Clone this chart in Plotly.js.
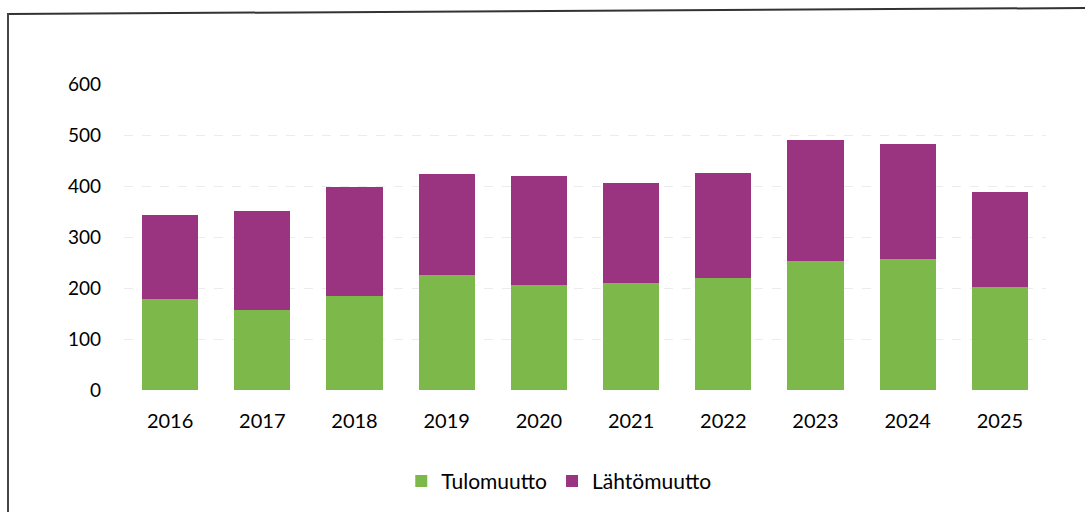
<!DOCTYPE html>
<html>
<head>
<meta charset="utf-8">
<script src="https://cdn.plot.ly/plotly-3.0.1.min.js"></script>
<style>
  html, body { margin: 0; padding: 0; background: #fff; }
  #wrap { position: relative; width: 1085px; height: 512px; overflow: hidden; }
  #chart { position: absolute; left: 0; top: 0; width: 1085px; height: 512px; }
  #frame { position: absolute; left: 0; top: 0; width: 1085px; height: 512px; pointer-events: none; }
</style>
</head>
<body>
<div id="wrap">
  <div id="chart"></div>
  <svg id="frame" width="1085" height="512">
    <line x1="8" y1="14" x2="1085" y2="8" stroke="#333" stroke-width="2"/>
    <line x1="8" y1="13" x2="8" y2="512" stroke="#444" stroke-width="2"/>
  </svg>
</div>
<script>
const years = ['2016','2017','2018','2019','2020','2021','2022','2023','2024','2025'];
const tulomuutto = [178, 156, 184, 225, 205, 210, 220, 252, 257, 202];
const lahtomuutto = [166, 195, 214, 199, 215, 196, 206, 239, 226, 187];
const yTicks = [0, 100, 200, 300, 400, 500, 600];

const font = 'Lato, "Open Sans", "Noto Sans", sans-serif';

const data = [
  { type: 'bar', name: 'Tulomuutto', x: years, y: tulomuutto,
    marker: { color: '#7cb84a' } },
  { type: 'bar', name: 'Lähtömuutto', x: years, y: lahtomuutto,
    marker: { color: '#9b3480' } }
];

const layout = {
  width: 1085, height: 512,
  margin: { l: 124, r: 39, t: 84, b: 122 },
  paper_bgcolor: 'rgba(0,0,0,0)',
  plot_bgcolor: '#fff',
  barmode: 'stack',
  bargap: 0.39,
  showlegend: true,
  legend: { orientation: 'h', xref: 'container', x: 0.515, xanchor: 'center',
            yref: 'container', y: 0.06, yanchor: 'middle',
            font: { family: font, size: 21, color: '#000' }, traceorder: 'normal' },
  xaxis: { type: 'category', tickfont: { family: font, size: 20, color: '#000' },
           showgrid: false, zeroline: false, ticks: '', ticklabelstandoff: 17 },
  yaxis: { range: [0, 600], tickvals: yTicks, ticktext: yTicks.map(String),
           tickfont: { family: font, size: 19, color: '#000' },
           showgrid: true, gridcolor: '#ececec', gridwidth: 1, griddash: 'dash',
           zeroline: false, ticks: '', ticklabelstandoff: 22 }
};

Plotly.newPlot('chart', data, layout, { displayModeBar: false, staticPlot: true });
</script>
</body>
</html>
